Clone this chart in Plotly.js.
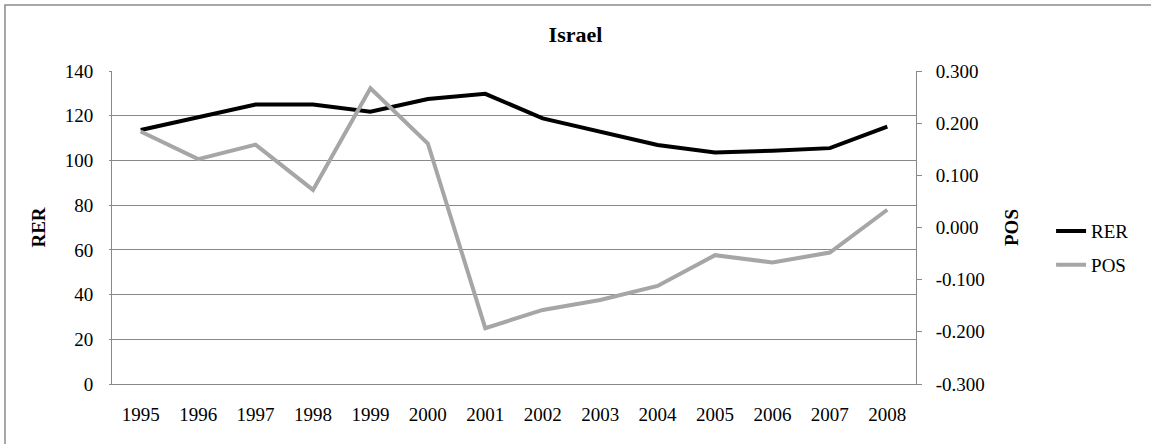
<!DOCTYPE html>
<html>
<head>
<meta charset="utf-8">
<script src="https://cdn.plot.ly/plotly-3.0.1.min.js"></script>
<style>html,body{margin:0;padding:0;background:#fff;}#chart{width:1151px;height:444px;}</style>
</head>
<body>
<div id="chart"></div>
<script>
const years = ['1995','1996','1997','1998','1999','2000','2001','2002','2003','2004','2005','2006','2007','2008'];
const rer = [113.6, 119.5, 125.0, 125.0, 121.8, 127.5, 129.8, 118.8, 112.9, 106.9, 103.6, 104.3, 105.5, 115.1];
const pos = [0.184, 0.131, 0.159, 0.072, 0.267, 0.161, -0.193, -0.158, -0.139, -0.112, -0.053, -0.067, -0.048, 0.034];
const rerTicks = [0, 20, 40, 60, 80, 100, 120, 140];
const posTicks = [-0.3, -0.2, -0.1, 0, 0.1, 0.2, 0.3];
const posTickText = ['-0.300', '-0.200', '-0.100', '0.000', '0.100', '0.200', '0.300'];

const FONT = 'Liberation Serif, Times New Roman, serif';
const GRID = '#898989';

const traces = [
  {x: years, y: rer, name: 'RER', type: 'scatter', mode: 'lines', yaxis: 'y',
   line: {color: '#000000', width: 4}, legendgroup: 'a'},
  {x: years, y: pos, name: 'POS', type: 'scatter', mode: 'lines', yaxis: 'y2',
   line: {color: '#a6a6a6', width: 4}, legendgroup: 'b'}
];

const layout = {
  width: 1151, height: 444,
  margin: {l: 112, r: 235, t: 71, b: 60},
  paper_bgcolor: '#ffffff', plot_bgcolor: '#ffffff',
  font: {family: FONT, size: 19, color: '#000'},
  showlegend: true,
  title: {text: '<b>Israel</b>', font: {family: FONT, size: 22, color: '#000'},
          x: 0.5, xref: 'container', y: 1 - 34/444, yref: 'container', yanchor: 'middle'},
  xaxis: {type: 'category', range: [-0.5, 13.5], showgrid: false, zeroline: false,
          showline: true, linecolor: GRID, linewidth: 1, ticks: '', ticklabelstandoff: 13,
          tickfont: {family: FONT, size: 19}, fixedrange: true},
  yaxis: {range: [0, 140], tickvals: rerTicks, showgrid: true, gridcolor: GRID, gridwidth: 1,
          zeroline: false, showline: true, linecolor: GRID, linewidth: 1,
          ticks: 'outside', ticklen: 2, tickcolor: GRID, ticklabelstandoff: 12,
          tickfont: {family: FONT, size: 19},
          title: {text: '<b>RER</b>', font: {family: FONT, size: 19}, standoff: 14}},
  yaxis2: {range: [-0.3, 0.3], overlaying: 'y', side: 'right', tickvals: posTicks, ticktext: posTickText,
           showgrid: false, zeroline: false, showline: true, linecolor: GRID, linewidth: 1,
           ticks: 'outside', ticklen: 5, tickcolor: GRID, ticklabelstandoff: 10,
           tickfont: {family: FONT, size: 19},
           title: {text: '<b>POS</b>', font: {family: FONT, size: 19}, standoff: 20}},
  legend: {x: 1.168, xanchor: 'left', y: 0.434, yanchor: 'middle', font: {family: FONT, size: 19},
           traceorder: 'grouped', tracegroupgap: 6, bgcolor: 'rgba(0,0,0,0)'},
  shapes: [
    {type: 'rect', xref: 'paper', yref: 'paper', x0: -0.1331, x1: 1.30, y0: -0.21, y1: 1.2109,
     line: {color: '#8c8c8c', width: 1.5}, fillcolor: 'rgba(0,0,0,0)', layer: 'below'}
  ]
};

Plotly.newPlot('chart', traces, layout, {displayModeBar: false, staticPlot: true});
</script>
</body>
</html>
